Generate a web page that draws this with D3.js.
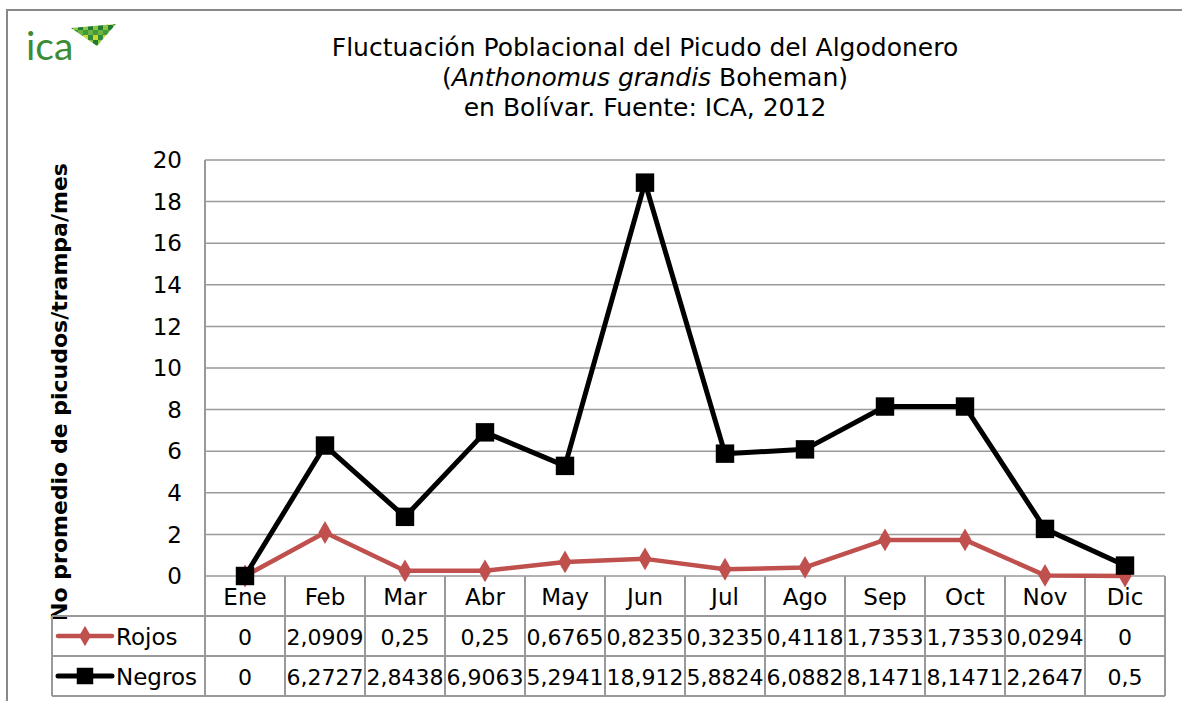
<!DOCTYPE html>
<meta charset="utf-8">
<style>
body { margin: 0; background: #fff; }
text { font-family: "DejaVu Sans", sans-serif; fill: #000; }
.grid line { stroke: #999; stroke-width: 1.5px; }
.cell line { stroke: #999; stroke-width: 2px; }
</style>
<svg width="1182" height="701"></svg>
<script src="https://d3js.org/d3.v7.min.js"></script>
<script>

var months = ["Ene", "Feb", "Mar", "Abr", "May", "Jun", "Jul", "Ago", "Sep", "Oct", "Nov", "Dic"];
var rojos = [0, 2.0909, 0.25, 0.25, 0.6765, 0.8235, 0.3235, 0.4118, 1.7353, 1.7353, 0.0294, 0];
var negros = [0, 6.2727, 2.8438, 6.9063, 5.2941, 18.912, 5.8824, 6.0882, 8.1471, 8.1471, 2.2647, 0.5];
var yTicks = [0, 2, 4, 6, 8, 10, 12, 14, 16, 18, 20];

var series = [
  {name: "Rojos", values: rojos, color: "#c0504d", width: 4.5, symbol: d3.symbolDiamond, size: 150},
  {name: "Negros", values: negros, color: "#000", width: 5, symbol: d3.symbolSquare, size: 340}
];

var svg = d3.select("svg");

var plotL = 205, plotR = 1165, plotT = 160, plotB = 576,
    rowH = 40, tableLeft = 52;

var x = d3.scaleBand().domain(months).range([plotL, plotR]);
var y = d3.scaleLinear().domain([0, 20]).range([plotB, plotT]);

var fmt = d3.formatLocale({decimal: ",", thousands: ".", grouping: [3], currency: ["", ""]}).format(".5~r");

// outer frame
svg.append("rect")
    .attr("x", 7).attr("y", 10).attr("width", 1300).attr("height", 800)
    .attr("fill", "none").attr("stroke", "#888").attr("stroke-width", 2);

// logo
var logo = svg.append("g");
logo.append("text")
    .attr("x", 26).attr("y", 60)
    .style("font-family", "Lato, sans-serif")
    .style("font-size", "39px")
    .style("fill", "#3c8c35")
    .text("ica");
var flag = logo.append("g");
flag.append("clipPath").attr("id", "flagclip")
  .append("polygon").attr("points", "71,28 116,24 97,46");
var tiles = flag.append("g").attr("clip-path", "url(#flagclip)");
var shades = ["#2f8a3a", "#8cc63f", "#3f9a3c", "#c9d831", "#1f7a34", "#6db33f"];
var k = 0;
for (var tx = 68; tx < 118; tx += 5) {
  for (var ty = 20; ty < 48; ty += 5) {
    tiles.append("rect")
        .attr("x", tx).attr("y", ty).attr("width", 5).attr("height", 5)
        .attr("fill", shades[(k * 7 + Math.floor(tx / 5) * 3) % shades.length]);
    k++;
  }
}

// title
var title = svg.append("text")
    .attr("text-anchor", "middle")
    .style("font-size", "25px");
title.append("tspan").attr("x", 645).attr("y", 56).text("Fluctuación Poblacional del Picudo del Algodonero");
var t2 = title.append("tspan").attr("x", 645).attr("y", 86);
t2.append("tspan").text("(");
t2.append("tspan").style("font-style", "italic").text("Anthonomus grandis");
t2.append("tspan").text(" Boheman)");
title.append("tspan").attr("x", 645).attr("y", 116).text("en Bolívar. Fuente: ICA, 2012");

// y label
svg.append("text")
    .attr("transform", "translate(67,392) rotate(-90)")
    .attr("text-anchor", "middle")
    .style("font-size", "22px")
    .style("font-weight", "bold")
    .text("No promedio de picudos/trampa/mes");

// grid
svg.append("g").attr("class", "grid")
  .selectAll("line").data(yTicks).enter().append("line")
    .attr("x1", plotL).attr("x2", plotR)
    .attr("y1", function(d) { return y(d); })
    .attr("y2", function(d) { return y(d); });

svg.append("g").selectAll("text").data(yTicks).enter().append("text")
    .attr("x", 182)
    .attr("y", function(d) { return y(d); })
    .attr("dy", "0.36em")
    .attr("text-anchor", "end")
    .style("font-size", "23px")
    .text(function(d) { return d; });

// data table
var cell = svg.append("g").attr("class", "cell");
var bounds = months.map(function(m) { return x(m); }).concat([plotR]);
cell.selectAll(".v").data(bounds).enter().append("line")
    .attr("x1", function(d) { return d; }).attr("x2", function(d) { return d; })
    .attr("y1", function(d) { return d === plotL ? plotT : plotB; })
    .attr("y2", plotB + 3 * rowH);
cell.append("line").attr("x1", tableLeft).attr("x2", tableLeft)
    .attr("y1", plotB + rowH).attr("y2", plotB + 3 * rowH);
[1, 2, 3].forEach(function(i) {
  cell.append("line").attr("x1", tableLeft).attr("x2", plotR)
      .attr("y1", plotB + i * rowH).attr("y2", plotB + i * rowH);
});

svg.append("g").selectAll("text").data(months).enter().append("text")
    .attr("x", function(d) { return x(d) + x.bandwidth() / 2; })
    .attr("y", plotB + rowH / 2 + 1)
    .attr("dy", "0.36em")
    .attr("text-anchor", "middle")
    .style("font-size", "23px")
    .text(function(d) { return d; });

// lines
var line = d3.line()
    .x(function(d, j) { return x(months[j]) + x.bandwidth() / 2; })
    .y(function(d) { return y(d); });

series.forEach(function(s) {
  var g = svg.append("g");
  g.append("path")
      .datum(s.values)
      .attr("d", line)
      .attr("fill", "none")
      .attr("stroke", s.color)
      .attr("stroke-width", s.width)
      .attr("stroke-linejoin", "round");
  g.selectAll("path.m").data(s.values).enter().append("path")
      .attr("class", "m")
      .attr("transform", function(d, j) { return "translate(" + (x(months[j]) + x.bandwidth() / 2) + "," + y(d) + ")"; })
      .attr("d", d3.symbol().type(s.symbol).size(s.size)())
      .attr("fill", s.color);
});

series.forEach(function(s, i) {
  var cy = plotB + rowH * (i + 1) + rowH / 2;
  var row = svg.append("g");
  row.selectAll("text").data(s.values).enter().append("text")
      .attr("x", function(d, j) { return x(months[j]) + x.bandwidth() / 2; })
      .attr("y", cy + 1)
      .attr("dy", "0.36em")
      .attr("text-anchor", "middle")
      .style("font-size", "22px")
      .text(function(d) { return fmt(d); });
  row.append("line")
      .attr("x1", 58).attr("x2", 112).attr("y1", cy).attr("y2", cy)
      .attr("stroke", s.color).attr("stroke-width", s.width).attr("stroke-linecap", "round");
  row.append("path")
      .attr("transform", "translate(85," + cy + ")")
      .attr("d", d3.symbol().type(s.symbol).size(s.size * 0.8)())
      .attr("fill", s.color);
  row.append("text")
      .attr("x", 116).attr("y", cy + 1).attr("dy", "0.36em")
      .style("font-size", "23px")
      .text(s.name);
});

</script>
